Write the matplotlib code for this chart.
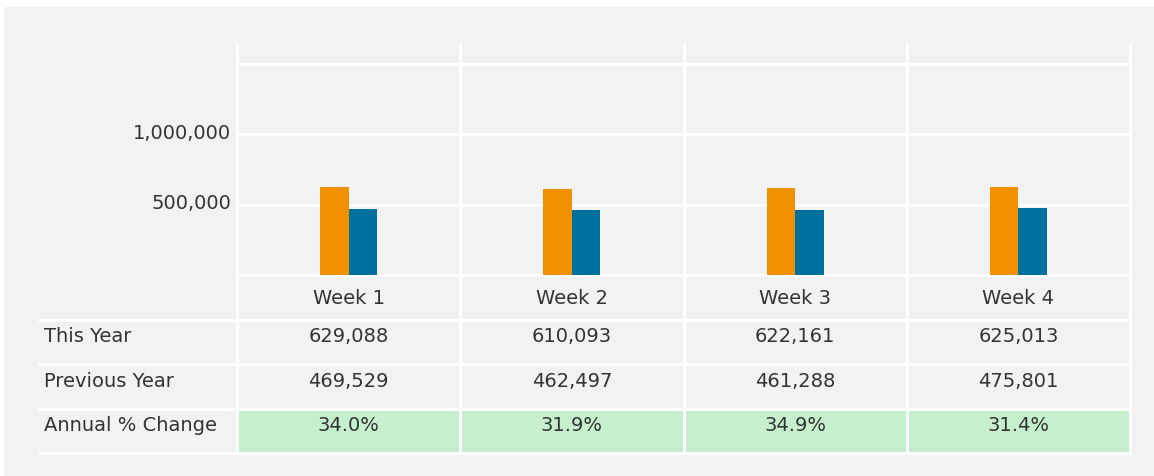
import matplotlib.pyplot as plt
from matplotlib.patches import Rectangle
from matplotlib.transforms import ScaledTranslation

# data
weeks = ['Week 1', 'Week 2', 'Week 3', 'Week 4']
this_year = [629088, 610093, 622161, 625013]
prev_year = [469529, 462497, 461288, 475801]
row_labels = ['This Year', 'Previous Year', 'Annual % Change']
ytick_vals = [500000, 1000000]

pct = [(a / b - 1) * 100 for a, b in zip(this_year, prev_year)]

W, H = 1154, 476
BG = '#f2f2f2'
TXT = '#333333'
FS = 14
LW = 2.2


def fx(x):
    return x / W


def fy(y):
    return 1 - y / H


fig = plt.figure(figsize=(W / 100, H / 100), dpi=100, facecolor='white')
bg = Rectangle((fx(4), 0), 1 - fx(4), fy(7), transform=fig.transFigure,
               facecolor=BG, edgecolor='none', zorder=-10)
fig.add_artist(bg)

# bar chart area
ax = fig.add_axes([fx(237), fy(275), fx(1130) - fx(237), fy(45) - fy(275)])
ax.set_facecolor('none')
ax.set_xlim(-0.5, 3.5)
ax.set_ylim(0, 1636000)
x = list(range(len(weeks)))
bw = 0.128
ax.bar([i - bw / 2 for i in x], this_year, bw, color='#f29100', zorder=3)
ax.bar([i + bw / 2 for i in x], prev_year, bw, color='#00709e', zorder=3)

for v in [0, 500000, 1000000, 1500000]:
    ax.axhline(v, color='white', lw=LW, zorder=1, clip_on=False)
for b in [-0.5, 0.5, 1.5, 2.5, 3.5]:
    ax.axvline(b, color='white', lw=LW, zorder=2, clip_on=False)

ax.set_yticks(ytick_vals)
ax.set_yticklabels([f'{v:,}' for v in ytick_vals], fontsize=FS, color=TXT)
ax.tick_params(axis='y', length=0, pad=4)
shift = ScaledTranslation(0, 3 / 100, fig.dpi_scale_trans)
for lab in ax.get_yticklabels():
    lab.set_transform(lab.get_transform() + shift)
ax.set_xticks([])
for s in ax.spines.values():
    s.set_visible(False)

# table below
lab_w = 199 / 223.25
tax = fig.add_axes([fx(38), fy(453), fx(1130) - fx(38), fy(275) - fy(453)])
tax.set_facecolor('none')
tax.set_xlim(-0.5 - lab_w, 3.5)
tax.set_ylim(4, 0)
tax.axis('off')

for i in x:
    tax.add_patch(Rectangle((i - 0.5, 3), 1, 1, facecolor='#c6efce', edgecolor='none', zorder=1))

for r in [1, 2, 3, 4]:
    tax.plot([-0.5 - lab_w, 3.5], [r, r], color='white', lw=LW, zorder=2,
             solid_capstyle='butt', clip_on=False)
for b in [-0.5, 0.5, 1.5, 2.5, 3.5]:
    tax.plot([b, b], [0, 4], color='white', lw=LW, zorder=2, clip_on=False)

for i, w in enumerate(weeks):
    tax.text(i, 0.52, w, ha='center', va='center', fontsize=FS, color=TXT)
    tax.text(i, 1.39, f'{this_year[i]:,}', ha='center', va='center', fontsize=FS, color=TXT)
    tax.text(i, 2.39, f'{prev_year[i]:,}', ha='center', va='center', fontsize=FS, color=TXT)
    tax.text(i, 3.39, f'{pct[i]:.1f}%', ha='center', va='center', fontsize=FS, color=TXT)

for r, lab in enumerate(row_labels):
    tax.text(-0.5 - lab_w + 6 / 223.25, r + 1.39, lab, ha='left', va='center',
             fontsize=FS, color=TXT)

fig.savefig('out.png', dpi=100, facecolor=fig.get_facecolor())
